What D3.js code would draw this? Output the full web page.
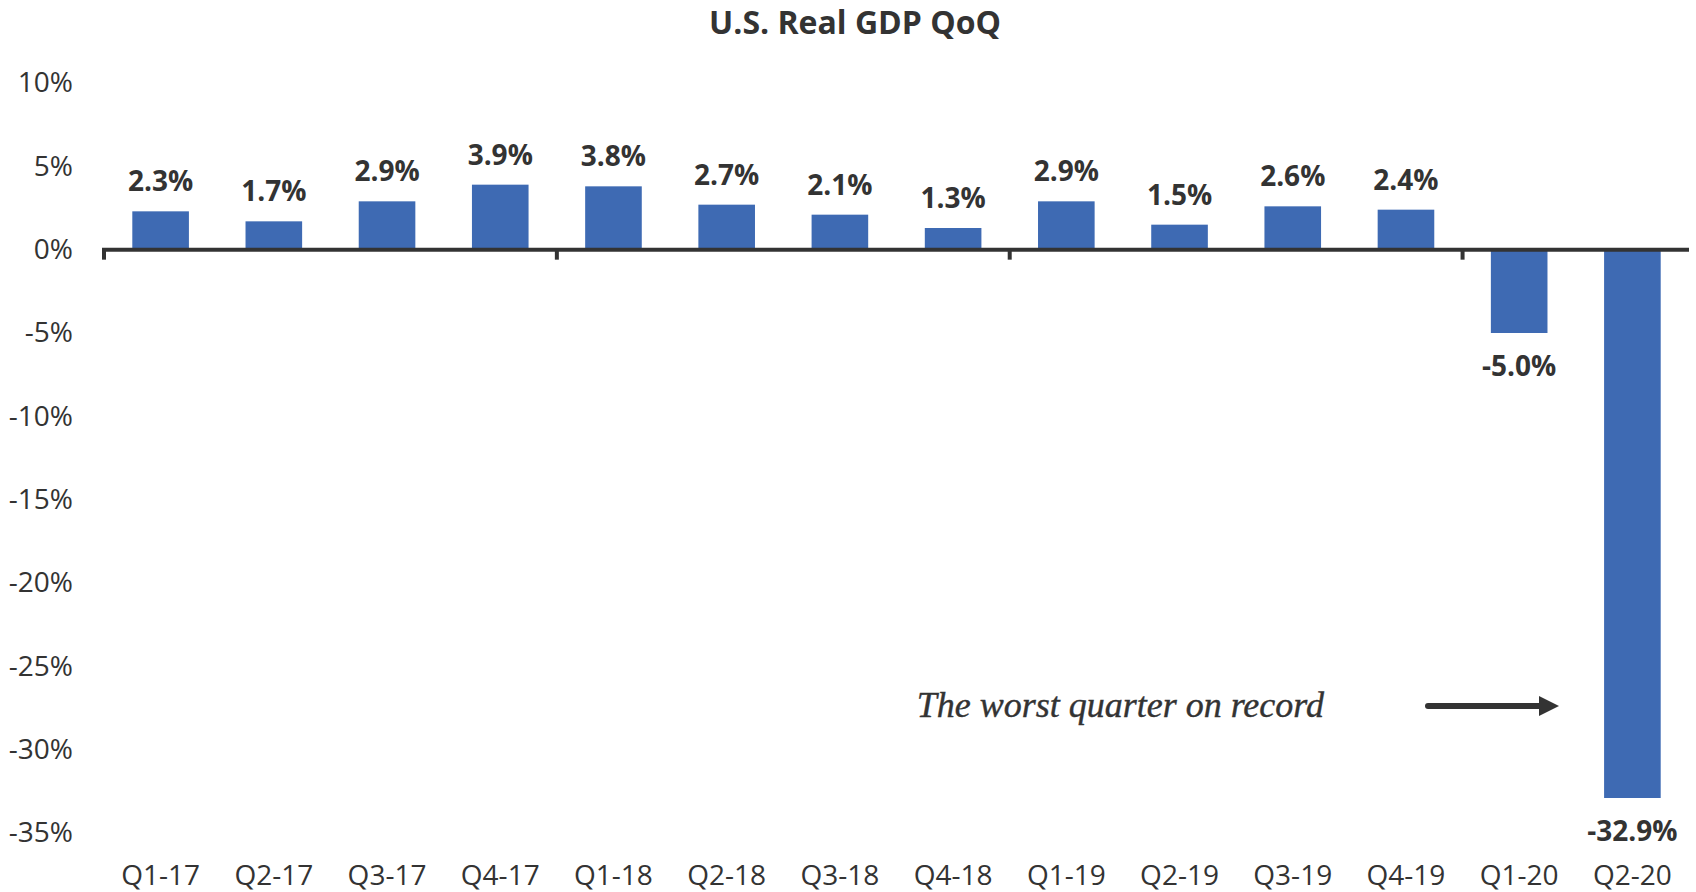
<!DOCTYPE html>
<html>
<head>
<meta charset="utf-8">
<script src="https://cdn.jsdelivr.net/npm/d3@7"></script>
<style>
  body { margin: 0; background: #fff; }
  text { font-family: 'Open Sans', sans-serif; fill: #333; }
</style>
</head>
<body>
<div id="chart"></div>
<script>
var categories = ['Q1-17', 'Q2-17', 'Q3-17', 'Q4-17', 'Q1-18', 'Q2-18', 'Q3-18', 'Q4-18',
    'Q1-19', 'Q2-19', 'Q3-19', 'Q4-19', 'Q1-20', 'Q2-20'];
var values = [2.3, 1.7, 2.9, 3.9, 3.8, 2.7, 2.1, 1.3, 2.9, 1.5, 2.6, 2.4, -5.0, -32.9];
var yTicks = [10, 5, 0, -5, -10, -15, -20, -25, -30, -35];
var title = 'U.S. Real GDP QoQ';
var note = 'The worst quarter on record';

var config = {
    w: 1696,
    h: 892,
    left: 104,
    right: 1689,
    top: 83,
    bottom: 833,
    barColor: '#3e6ab3',
    ink: '#333333'
};

var data = categories.map(function (c, i) { return { cat: c, value: values[i] }; });

var svg = d3.select('#chart').append('svg')
    .attr('width', config.w)
    .attr('height', config.h);

var x = d3.scaleBand()
    .domain(categories)
    .range([config.left, config.right])
    .paddingInner(0.5)
    .paddingOuter(0.25);

var y = d3.scaleLinear()
    .domain([-35, 10])
    .range([config.bottom, config.top]);

// title
svg.append('text')
    .attr('x', 855)
    .attr('y', 34)
    .attr('text-anchor', 'middle')
    .style('font-size', '32px')
    .style('font-weight', 'bold')
    .text(title);

// y tick labels (no gridlines in the original)
var yAxis = d3.axisLeft(y)
    .tickValues(yTicks)
    .tickSize(0)
    .tickPadding(0)
    .tickFormat(function (d) { return d + '%'; });

svg.append('g')
    .attr('class', 'y-axis')
    .attr('transform', 'translate(73,0)')
    .call(yAxis)
    .call(function (g) { g.select('.domain').remove(); })
    .selectAll('text')
    .style('font-size', '28px')
    .style('font-family', "'Open Sans', sans-serif")
    .attr('fill', config.ink);

// bars
svg.selectAll('.bar')
    .data(data)
    .join('rect')
    .attr('class', 'bar')
    .attr('x', function (d) { return x(d.cat); })
    .attr('width', x.bandwidth())
    .attr('y', function (d) { return y(Math.max(0, d.value)); })
    .attr('height', function (d) { return Math.abs(y(d.value) - y(0)); })
    .attr('fill', config.barColor);

// zero line with a tick every 4 quarters
svg.append('line')
    .attr('x1', config.left - 2)
    .attr('x2', config.right)
    .attr('y1', y(0))
    .attr('y2', y(0))
    .attr('stroke', config.ink)
    .attr('stroke-width', 4);

var step = x.step();
svg.selectAll('.qtick')
    .data(d3.range(0, categories.length, 4))
    .join('line')
    .attr('class', 'qtick')
    .attr('x1', function (i) { return config.left + i * step; })
    .attr('x2', function (i) { return config.left + i * step; })
    .attr('y1', y(0))
    .attr('y2', y(0) + 10)
    .attr('stroke', config.ink)
    .attr('stroke-width', 4);

// value labels
svg.selectAll('.vlabel')
    .data(data)
    .join('text')
    .attr('class', 'vlabel')
    .attr('x', function (d) { return x(d.cat) + x.bandwidth() / 2; })
    .attr('y', function (d) { return d.value >= 0 ? y(d.value) - 20 : y(d.value) + 43; })
    .attr('text-anchor', 'middle')
    .style('font-size', '28px')
    .style('font-weight', 'bold')
    .text(function (d) { return d.value.toFixed(1) + '%'; });

// category labels
svg.selectAll('.clabel')
    .data(categories)
    .join('text')
    .attr('class', 'clabel')
    .attr('x', function (d) { return x(d) + x.bandwidth() / 2; })
    .attr('y', 885)
    .attr('text-anchor', 'middle')
    .style('font-size', '28px')
    .text(function (d) { return d; });

// annotation
svg.append('text')
    .attr('x', 1324)
    .attr('y', 717)
    .attr('text-anchor', 'end')
    .style('font-family', "'Liberation Serif', serif")
    .style('font-style', 'italic')
    .style('font-size', '36px')
    .style('stroke', config.ink)
    .style('stroke-width', 0.4)
    .text(note);

svg.append('line')
    .attr('x1', 1428)
    .attr('x2', 1541)
    .attr('y1', 706)
    .attr('y2', 706)
    .attr('stroke', config.ink)
    .attr('stroke-width', 6)
    .attr('stroke-linecap', 'round');

svg.append('path')
    .attr('d', d3.line()([[1539, 696], [1559, 706], [1539, 716]]) + 'Z')
    .attr('fill', config.ink);
</script>
</body>
</html>
